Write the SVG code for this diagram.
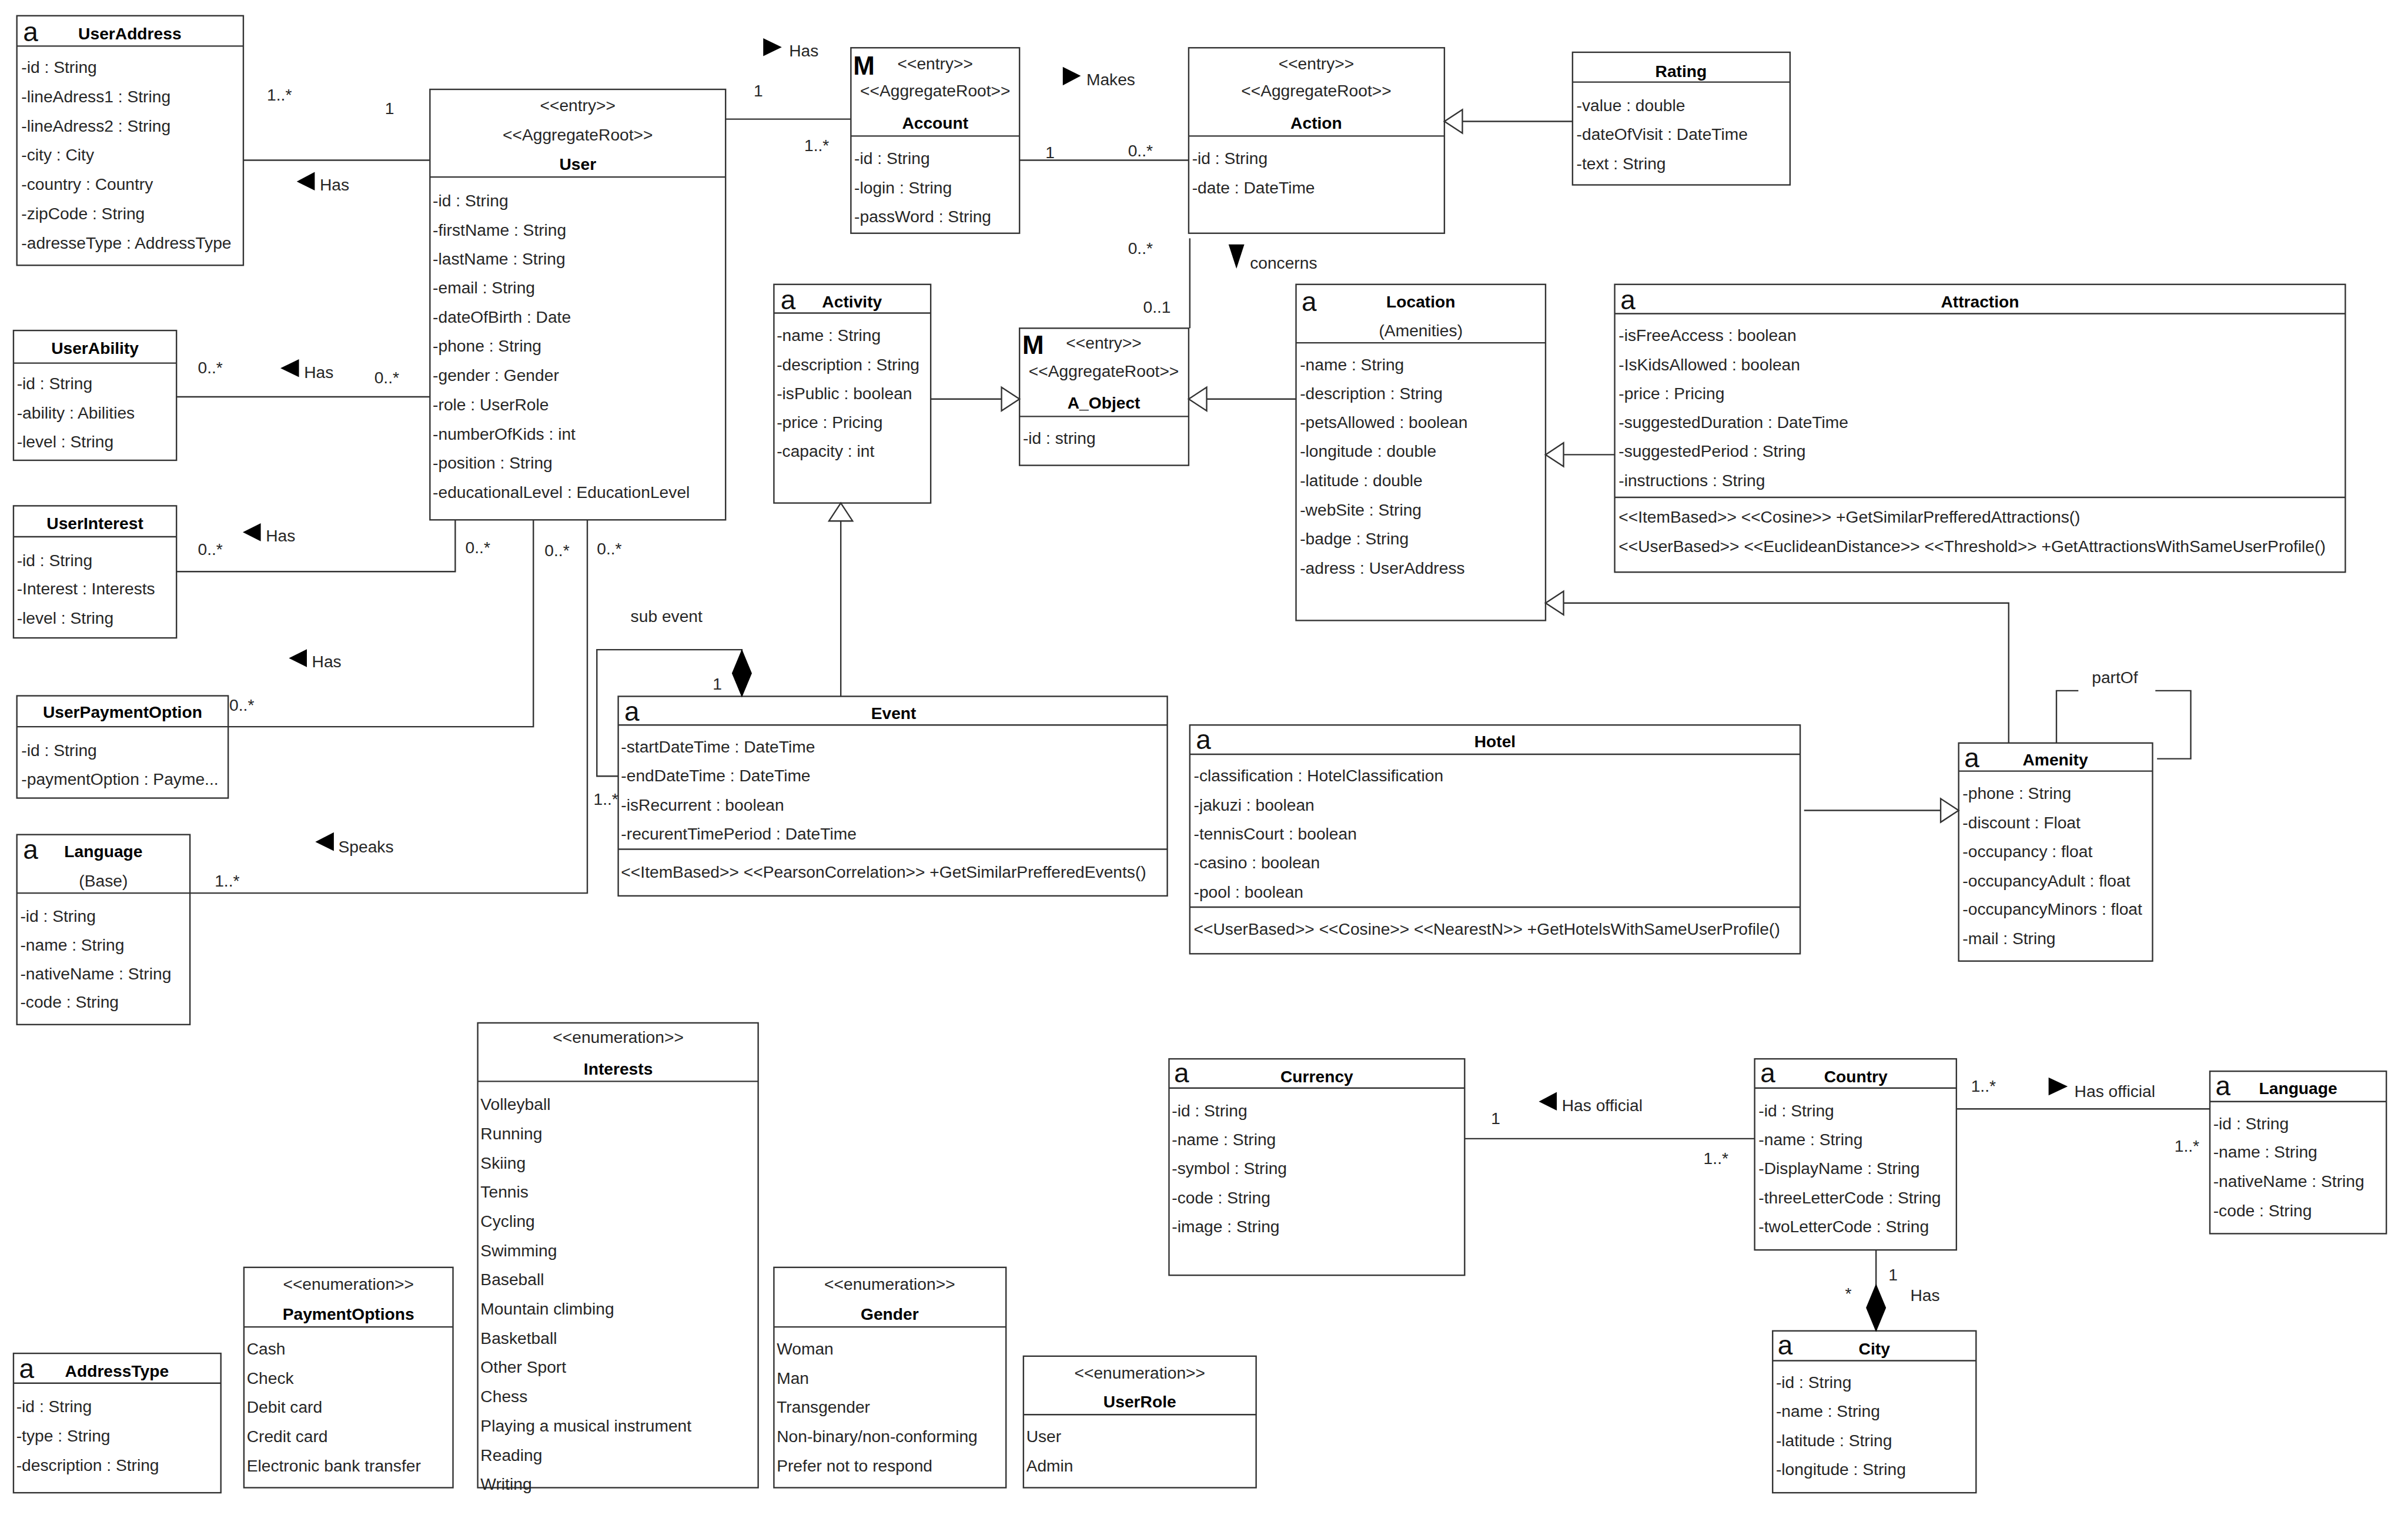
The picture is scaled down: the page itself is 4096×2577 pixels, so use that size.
<svg xmlns="http://www.w3.org/2000/svg" width="4096" height="2577" viewBox="0 0 4096 2577">
<style>
.box{fill:#fff;stroke:#333;stroke-width:2.5}
.sep{fill:none;stroke:#333;stroke-width:2.5}
.cn{fill:none;stroke:#333;stroke-width:2.5}
text{font-family:"Liberation Sans",Arial,sans-serif;font-size:29.5px;fill:#262626}
.ti{font-weight:bold;text-anchor:middle;fill:#000}
.c{text-anchor:middle}
.ic{font-size:48px;fill:#111}
.mi{font-size:46px;font-weight:bold;fill:#000}
.ar{fill:#000}
</style>
<defs>
<marker id="gen" markerUnits="userSpaceOnUse" markerWidth="36" markerHeight="46" refX="32" refY="21" orient="auto" overflow="visible">
<path d="M0,0 L32,21 L0,42 Z" fill="#fff" stroke="#333" stroke-width="2.5"/>
</marker>
<marker id="comp" markerUnits="userSpaceOnUse" markerWidth="84" markerHeight="36" refX="82" refY="17" orient="auto" overflow="visible">
<path d="M0,17 L41,0 L82,17 L41,34 Z" fill="#000" stroke="#000" stroke-width="1.5"/>
</marker>
</defs>
<rect width="4096" height="2577" fill="#fff"/>
<g transform="scale(0.956)">

<g id="n-useraddress">
<rect class="box" x="30" y="28" width="403" height="444"/>
<path class="sep" d="M30,82 H433"/>
<text class="ic" x="41" y="73">a</text>
<text class="ti" x="231" y="70">UserAddress</text>
<text x="38" y="130">-id : String</text>
<text x="38" y="182">-lineAdress1 : String</text>
<text x="38" y="234">-lineAdress2 : String</text>
<text x="38" y="286">-city : City</text>
<text x="38" y="338">-country : Country</text>
<text x="38" y="390">-zipCode : String</text>
<text x="38" y="442">-adresseType : AddressType</text>
</g>

<g id="n-user">
<rect class="box" x="765" y="159" width="526" height="766"/>
<path class="sep" d="M765,315 H1291"/>
<text class="c" x="1028" y="198">&lt;&lt;entry&gt;&gt;</text>
<text class="c" x="1028" y="250">&lt;&lt;AggregateRoot&gt;&gt;</text>
<text class="ti" x="1028" y="302">User</text>
<text x="770" y="367">-id : String</text>
<text x="770" y="419">-firstName : String</text>
<text x="770" y="471">-lastName : String</text>
<text x="770" y="522">-email : String</text>
<text x="770" y="574">-dateOfBirth : Date</text>
<text x="770" y="626">-phone : String</text>
<text x="770" y="678">-gender : Gender</text>
<text x="770" y="730">-role : UserRole</text>
<text x="770" y="782">-numberOfKids : int</text>
<text x="770" y="834">-position : String</text>
<text x="770" y="886">-educationalLevel : EducationLevel</text>
</g>

<g id="n-userability">
<rect class="box" x="24" y="588" width="290" height="231"/>
<path class="sep" d="M24,646 H314"/>
<text class="ti" x="169" y="630">UserAbility</text>
<text x="30" y="693">-id : String</text>
<text x="30" y="745">-ability : Abilities</text>
<text x="30" y="796">-level : String</text>
</g>

<g id="n-userinterest">
<rect class="box" x="24" y="900" width="290" height="235"/>
<path class="sep" d="M24,955 H314"/>
<text class="ti" x="169" y="941">UserInterest</text>
<text x="30" y="1007">-id : String</text>
<text x="30" y="1058">-Interest : Interests</text>
<text x="30" y="1110">-level : String</text>
</g>

<g id="n-userpaymentoption">
<rect class="box" x="30" y="1238" width="376" height="182"/>
<path class="sep" d="M30,1293 H406"/>
<text class="ti" x="218" y="1277">UserPaymentOption</text>
<text x="38" y="1345">-id : String</text>
<text x="38" y="1396">-paymentOption : Payme...</text>
</g>

<g id="n-language-base">
<rect class="box" x="30" y="1485" width="308" height="338"/>
<path class="sep" d="M30,1589 H338"/>
<text class="ic" x="41" y="1528">a</text>
<text class="ti" x="184" y="1525">Language</text>
<text class="c" x="184" y="1577">(Base)</text>
<text x="36" y="1640">-id : String</text>
<text x="36" y="1691">-name : String</text>
<text x="36" y="1743">-nativeName : String</text>
<text x="36" y="1793">-code : String</text>
</g>

<g id="n-account">
<rect class="box" x="1514" y="85" width="300" height="330"/>
<path class="sep" d="M1514,242 H1814"/>
<text class="mi" x="1518" y="133">M</text>
<text class="c" x="1664" y="123">&lt;&lt;entry&gt;&gt;</text>
<text class="c" x="1664" y="172">&lt;&lt;AggregateRoot&gt;&gt;</text>
<text class="ti" x="1664" y="229">Account</text>
<text x="1520" y="292">-id : String</text>
<text x="1520" y="344">-login : String</text>
<text x="1520" y="395">-passWord : String</text>
</g>

<g id="n-action">
<rect class="box" x="2115" y="85" width="455" height="330"/>
<path class="sep" d="M2115,242 H2570"/>
<text class="c" x="2342" y="123">&lt;&lt;entry&gt;&gt;</text>
<text class="c" x="2342" y="172">&lt;&lt;AggregateRoot&gt;&gt;</text>
<text class="ti" x="2342" y="229">Action</text>
<text x="2121" y="292">-id : String</text>
<text x="2121" y="344">-date : DateTime</text>
</g>

<g id="n-rating">
<rect class="box" x="2798" y="93" width="387" height="236"/>
<path class="sep" d="M2798,146 H3185"/>
<text class="ti" x="2991" y="137">Rating</text>
<text x="2805" y="198">-value : double</text>
<text x="2805" y="249">-dateOfVisit : DateTime</text>
<text x="2805" y="301">-text : String</text>
</g>

<g id="n-activity">
<rect class="box" x="1377" y="506" width="279" height="389"/>
<path class="sep" d="M1377,557 H1656"/>
<text class="ic" x="1389" y="550">a</text>
<text class="ti" x="1516" y="547">Activity</text>
<text x="1382" y="607">-name : String</text>
<text x="1382" y="659">-description : String</text>
<text x="1382" y="710">-isPublic : boolean</text>
<text x="1382" y="762">-price : Pricing</text>
<text x="1382" y="813">-capacity : int</text>
</g>

<g id="n-aobject">
<rect class="box" x="1814" y="584" width="301" height="244"/>
<path class="sep" d="M1814,741 H2115"/>
<text class="mi" x="1819" y="630">M</text>
<text class="c" x="1964" y="620">&lt;&lt;entry&gt;&gt;</text>
<text class="c" x="1964" y="670">&lt;&lt;AggregateRoot&gt;&gt;</text>
<text class="ti" x="1964" y="727">A_Object</text>
<text x="1820" y="790">-id : string</text>
</g>

<g id="n-location">
<rect class="box" x="2306" y="506" width="444" height="598"/>
<path class="sep" d="M2306,610 H2750"/>
<text class="ic" x="2316" y="553">a</text>
<text class="ti" x="2528" y="547">Location</text>
<text class="c" x="2528" y="598">(Amenities)</text>
<text x="2313" y="659">-name : String</text>
<text x="2313" y="710">-description : String</text>
<text x="2313" y="762">-petsAllowed : boolean</text>
<text x="2313" y="813">-longitude : double</text>
<text x="2313" y="865">-latitude : double</text>
<text x="2313" y="917">-webSite : String</text>
<text x="2313" y="969">-badge : String</text>
<text x="2313" y="1021">-adress : UserAddress</text>
</g>

<g id="n-attraction">
<rect class="box" x="2873" y="506" width="1300" height="512"/>
<path class="sep" d="M2873,558 H4173 M2873,885 H4173"/>
<text class="ic" x="2883" y="550">a</text>
<text class="ti" x="3523" y="547">Attraction</text>
<text x="2880" y="607">-isFreeAccess : boolean</text>
<text x="2880" y="659">-IsKidsAllowed : boolean</text>
<text x="2880" y="710">-price : Pricing</text>
<text x="2880" y="762">-suggestedDuration : DateTime</text>
<text x="2880" y="813">-suggestedPeriod : String</text>
<text x="2880" y="865">-instructions : String</text>
<text x="2880" y="930">&lt;&lt;ItemBased&gt;&gt; &lt;&lt;Cosine&gt;&gt; +GetSimilarPrefferedAttractions()</text>
<text x="2880" y="982">&lt;&lt;UserBased&gt;&gt; &lt;&lt;EuclideanDistance&gt;&gt; &lt;&lt;Threshold&gt;&gt; +GetAttractionsWithSameUserProfile()</text>
</g>

<g id="n-event">
<rect class="box" x="1100" y="1239" width="977" height="355"/>
<path class="sep" d="M1100,1290 H2077 M1100,1511 H2077"/>
<text class="ic" x="1111" y="1282">a</text>
<text class="ti" x="1590" y="1279">Event</text>
<text x="1105" y="1339">-startDateTime : DateTime</text>
<text x="1105" y="1390">-endDateTime : DateTime</text>
<text x="1105" y="1442">-isRecurrent : boolean</text>
<text x="1105" y="1494">-recurentTimePeriod : DateTime</text>
<text x="1105" y="1562">&lt;&lt;ItemBased&gt;&gt; &lt;&lt;PearsonCorrelation&gt;&gt; +GetSimilarPrefferedEvents()</text>
</g>

<g id="n-hotel">
<rect class="box" x="2117" y="1290" width="1086" height="407"/>
<path class="sep" d="M2117,1342 H3203 M2117,1614 H3203"/>
<text class="ic" x="2128" y="1333">a</text>
<text class="ti" x="2660" y="1330">Hotel</text>
<text x="2124" y="1390">-classification : HotelClassification</text>
<text x="2124" y="1442">-jakuzi : boolean</text>
<text x="2124" y="1494">-tennisCourt : boolean</text>
<text x="2124" y="1545">-casino : boolean</text>
<text x="2124" y="1597">-pool : boolean</text>
<text x="2124" y="1663">&lt;&lt;UserBased&gt;&gt; &lt;&lt;Cosine&gt;&gt; &lt;&lt;NearestN&gt;&gt; +GetHotelsWithSameUserProfile()</text>
</g>

<g id="n-amenity">
<rect class="box" x="3485" y="1322" width="345" height="388"/>
<path class="sep" d="M3485,1372 H3830"/>
<text class="ic" x="3495" y="1365">a</text>
<text class="ti" x="3657" y="1362">Amenity</text>
<text x="3492" y="1422">-phone : String</text>
<text x="3492" y="1474">-discount : Float</text>
<text x="3492" y="1525">-occupancy : float</text>
<text x="3492" y="1577">-occupancyAdult : float</text>
<text x="3492" y="1628">-occupancyMinors : float</text>
<text x="3492" y="1680">-mail : String</text>
</g>

<g id="n-interests">
<rect class="box" x="850" y="1820" width="499" height="827"/>
<path class="sep" d="M850,1924 H1349"/>
<text class="c" x="1100" y="1856">&lt;&lt;enumeration&gt;&gt;</text>
<text class="ti" x="1100" y="1912">Interests</text>
<text x="855" y="1975">Volleyball</text>
<text x="855" y="2027">Running</text>
<text x="855" y="2079">Skiing</text>
<text x="855" y="2131">Tennis</text>
<text x="855" y="2183">Cycling</text>
<text x="855" y="2235">Swimming</text>
<text x="855" y="2287">Baseball</text>
<text x="855" y="2339">Mountain climbing</text>
<text x="855" y="2391">Basketball</text>
<text x="855" y="2443">Other Sport</text>
<text x="855" y="2495">Chess</text>
<text x="855" y="2547">Playing a musical instrument</text>
<text x="855" y="2599">Reading</text>
<text x="855" y="2651">Writing</text>
</g>

<g id="n-paymentoptions">
<rect class="box" x="434" y="2255" width="372" height="392"/>
<path class="sep" d="M434,2361 H806"/>
<text class="c" x="620" y="2295">&lt;&lt;enumeration&gt;&gt;</text>
<text class="ti" x="620" y="2348">PaymentOptions</text>
<text x="439" y="2410">Cash</text>
<text x="439" y="2462">Check</text>
<text x="439" y="2514">Debit card</text>
<text x="439" y="2566">Credit card</text>
<text x="439" y="2618">Electronic bank transfer</text>
</g>

<g id="n-addresstype">
<rect class="box" x="24" y="2408" width="369" height="248"/>
<path class="sep" d="M24,2461 H393"/>
<text class="ic" x="34" y="2452">a</text>
<text class="ti" x="208" y="2450">AddressType</text>
<text x="29" y="2513">-id : String</text>
<text x="29" y="2565">-type : String</text>
<text x="29" y="2617">-description : String</text>
</g>

<g id="n-gender">
<rect class="box" x="1377" y="2255" width="413" height="392"/>
<path class="sep" d="M1377,2361 H1790"/>
<text class="c" x="1583" y="2295">&lt;&lt;enumeration&gt;&gt;</text>
<text class="ti" x="1583" y="2348">Gender</text>
<text x="1382" y="2410">Woman</text>
<text x="1382" y="2462">Man</text>
<text x="1382" y="2514">Transgender</text>
<text x="1382" y="2566">Non-binary/non-conforming</text>
<text x="1382" y="2618">Prefer not to respond</text>
</g>

<g id="n-userrole">
<rect class="box" x="1821" y="2413" width="414" height="234"/>
<path class="sep" d="M1821,2517 H2235"/>
<text class="c" x="2028" y="2453">&lt;&lt;enumeration&gt;&gt;</text>
<text class="ti" x="2028" y="2504">UserRole</text>
<text x="1826" y="2566">User</text>
<text x="1826" y="2618">Admin</text>
</g>

<g id="n-currency">
<rect class="box" x="2080" y="1884" width="526" height="385"/>
<path class="sep" d="M2080,1936 H2606"/>
<text class="ic" x="2089" y="1926">a</text>
<text class="ti" x="2343" y="1926">Currency</text>
<text x="2085" y="1986">-id : String</text>
<text x="2085" y="2038">-name : String</text>
<text x="2085" y="2089">-symbol : String</text>
<text x="2085" y="2141">-code : String</text>
<text x="2085" y="2192">-image : String</text>
</g>

<g id="n-country">
<rect class="box" x="3122" y="1884" width="359" height="340"/>
<path class="sep" d="M3122,1936 H3481"/>
<text class="ic" x="3132" y="1926">a</text>
<text class="ti" x="3302" y="1926">Country</text>
<text x="3129" y="1986">-id : String</text>
<text x="3129" y="2038">-name : String</text>
<text x="3129" y="2089">-DisplayName : String</text>
<text x="3129" y="2141">-threeLetterCode : String</text>
<text x="3129" y="2192">-twoLetterCode : String</text>
</g>

<g id="n-city">
<rect class="box" x="3154" y="2368" width="362" height="288"/>
<path class="sep" d="M3154,2421 H3516"/>
<text class="ic" x="3163" y="2410">a</text>
<text class="ti" x="3335" y="2410">City</text>
<text x="3160" y="2470">-id : String</text>
<text x="3160" y="2521">-name : String</text>
<text x="3160" y="2573">-latitude : String</text>
<text x="3160" y="2624">-longitude : String</text>
</g>

<g id="n-language">
<rect class="box" x="3932" y="1906" width="314" height="289"/>
<path class="sep" d="M3932,1960 H4246"/>
<text class="ic" x="3942" y="1949">a</text>
<text class="ti" x="4089" y="1947">Language</text>
<text x="3938" y="2009">-id : String</text>
<text x="3938" y="2060">-name : String</text>
<text x="3938" y="2112">-nativeName : String</text>
<text x="3938" y="2164">-code : String</text>
</g>

<g id="connectors">
<path class="cn" d="M433,285 H765"/>
<text x="475" y="179">1..*</text>
<text x="685" y="203">1</text>
<polygon class="ar" points="528,323 560,306 560,339"/>
<text x="569" y="339">Has</text>

<path class="cn" d="M314,706 H765"/>
<text x="352" y="664">0..*</text>
<polygon class="ar" points="499,655 532,639 532,671"/>
<text x="541" y="673">Has</text>
<text x="666" y="682">0..*</text>

<path class="cn" d="M314,1017 H810 V925"/>
<text x="352" y="987">0..*</text>
<polygon class="ar" points="432,947 464,931 464,963"/>
<text x="473" y="963">Has</text>
<text x="828" y="984">0..*</text>

<path class="cn" d="M406,1293 H949 V925"/>
<text x="408" y="1265">0..*</text>
<polygon class="ar" points="514,1171 546,1155 546,1187"/>
<text x="555" y="1187">Has</text>
<text x="969" y="990">0..*</text>

<path class="cn" d="M338,1589 H1045 V925"/>
<text x="382" y="1577">1..*</text>
<polygon class="ar" points="561,1498 594,1481 594,1514"/>
<text x="602" y="1517">Speaks</text>
<text x="1062" y="986">0..*</text>

<path class="cn" d="M1291,212 H1514"/>
<text x="1341" y="172">1</text>
<text x="1431" y="269">1..*</text>
<polygon class="ar" points="1358,68 1391,84 1358,100"/>
<text x="1404" y="100">Has</text>

<path class="cn" d="M1814,285 H2115"/>
<text x="1860" y="281">1</text>
<text x="2007" y="278">0..*</text>
<polygon class="ar" points="1891,119 1923,135 1891,152"/>
<text x="1933" y="152">Makes</text>

<path class="cn" d="M2117,424 V584"/>
<text x="2007" y="452">0..*</text>
<text x="2034" y="556">0..1</text>
<polygon class="ar" points="2186,435 2214,435 2200,478"/>
<text x="2224" y="478">concerns</text>

<path class="cn" d="M2798,216 H2570" marker-end="url(#gen)"/>
<path class="cn" d="M1656,710 H1814" marker-end="url(#gen)"/>
<path class="cn" d="M2306,710 H2115" marker-end="url(#gen)"/>
<path class="cn" d="M2873,809 H2750" marker-end="url(#gen)"/>
<path class="cn" d="M3574,1322 V1073 H2750" marker-end="url(#gen)"/>
<path class="cn" d="M1496,1239 V895" marker-end="url(#gen)"/>
<path class="cn" d="M3210,1442 H3485" marker-end="url(#gen)"/>

<path class="cn" d="M1100,1381 H1062 V1156 H1320 V1239" marker-end="url(#comp)"/>
<text x="1122" y="1107">sub event</text>
<text x="1268" y="1227">1</text>
<text x="1056" y="1432">1..*</text>

<path class="cn" d="M3659,1322 V1229 H3698 M3835,1229 H3898 V1350 H3838"/>
<text class="c" x="3763" y="1216">partOf</text>

<path class="cn" d="M2606,2026 H3122"/>
<text x="2653" y="2000">1</text>
<text x="3031" y="2071">1..*</text>
<polygon class="ar" points="2738,1960 2770,1943 2770,1976"/>
<text x="2779" y="1977">Has official</text>

<path class="cn" d="M3481,1973 H3932"/>
<text x="3507" y="1943">1..*</text>
<polygon class="ar" points="3645,1917 3679,1933 3645,1949"/>
<text x="3691" y="1952">Has official</text>
<text x="3869" y="2049">1..*</text>

<path class="cn" d="M3338,2224 V2368" marker-end="url(#comp)"/>
<text x="3360" y="2278">1</text>
<text x="3283" y="2312">*</text>
<text x="3399" y="2315">Has</text>
</g>

</g>
</svg>
